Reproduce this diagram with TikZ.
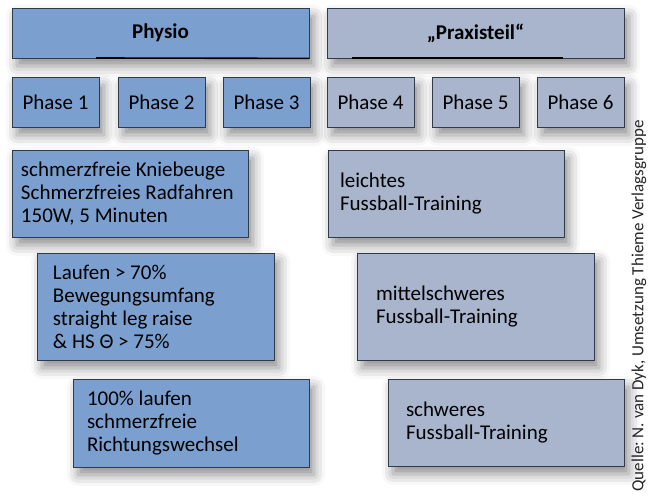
\documentclass[tikz,border=0pt]{standalone}
\usepackage{fontspec}
\setmainfont{Carlito}
\usetikzlibrary{shadows.blur}
\frenchspacing

\definecolor{physioblau}{RGB}{123,160,208}
\definecolor{praxisgrau}{RGB}{168,181,205}
\definecolor{rahmen}{RGB}{48,58,72}

\tikzset{
  kasten/.style={draw=rahmen, line width=0.8bp, text=black,
    font=\fontsize{21bp}{23bp}\selectfont,
    blur shadow={shadow xshift=5bp, shadow yshift=-8bp,
      shadow blur radius=11bp, shadow opacity=45}},
  physio/.style={kasten, fill=physioblau},
  praxis/.style={kasten, fill=praxisgrau},
  phase/.style={minimum width=87bp, minimum height=50bp, inner sep=0pt},
  kopf/.style={minimum width=297bp, minimum height=50bp, font=\fontsize{21bp}{23bp}\selectfont\bfseries},
  stufe/.style={minimum height=#1, align=flush left, inner ysep=0pt}
}

\begin{document}
\begin{tikzpicture}[x=1bp,y=-1bp]

      \useasboundingbox (0,0) rectangle (656,497);

      \begin{scope}[every node/.style={physio}]
        \node[kopf] (physiokopf) at (160.5,33) {Physio};
        \node[phase] (p1) at (55.5,102)  {Phase 1};
        \node[phase] (p2) at (161.5,102) {Phase 2};
        \node[phase] (p3) at (266.5,102) {Phase 3};
        \node[stufe=87bp, text width=218bp, inner xsep=9bp]  (s1) at (130,193.5) {schmerzfreie Kniebeuge\\Schmerzfreies Radfahren\\150W, 5 Minuten};
        \node[stufe=107bp, text width=205bp, inner xsep=16bp] (s2) at (155.5,306.5) {Laufen > 70\%\\Bewegungsumfang\\straight leg raise\\\& HS Θ > 75\%};
        \node[stufe=88bp, text width=208bp, inner xsep=14bp] (s3) at (191,423) {100\% laufen\\schmerzfreie\\Richtungswechsel};
      \end{scope}

      \begin{scope}[every node/.style={praxis}]
        \node[kopf] (praxiskopf) at (475.5,33) {„Praxisteil“};
        \node[phase] (p4) at (370.5,102) {Phase 4};
        \node[phase] (p5) at (475.5,102) {Phase 5};
        \node[phase] (p6) at (580.5,102) {Phase 6};
        \node[stufe=87bp, text width=212bp, inner xsep=12bp]  (t1) at (446,193.5) {leichtes\\Fussball-Training};
        \node[stufe=107bp, text width=199bp, inner xsep=19bp] (t2) at (475.5,306.5) {mittelschweres\\Fussball-Training};
        \node[stufe=87bp, text width=200bp, inner xsep=18bp]  (t3) at (506,422.5) {schweres\\Fussball-Training};
      \end{scope}

      \coordinate (physiostrich) at (96,58);
      \coordinate (praxisstrich) at (352,58);
      \coordinate (praxisende) at (563,58);
      \draw[line width=1.6bp] (physiostrich) -- (physiokopf.south east);
      \draw[line width=1.6bp] (praxisstrich) -- (praxisende);

      \node[rotate=90, text=black!85, font=\fontsize{17bp}{19bp}\selectfont] (quelle) at (639,306)
        {Quelle: N. van Dyk, Umsetzung Thieme Verlagsgruppe};

    \end{tikzpicture}
\end{document}
